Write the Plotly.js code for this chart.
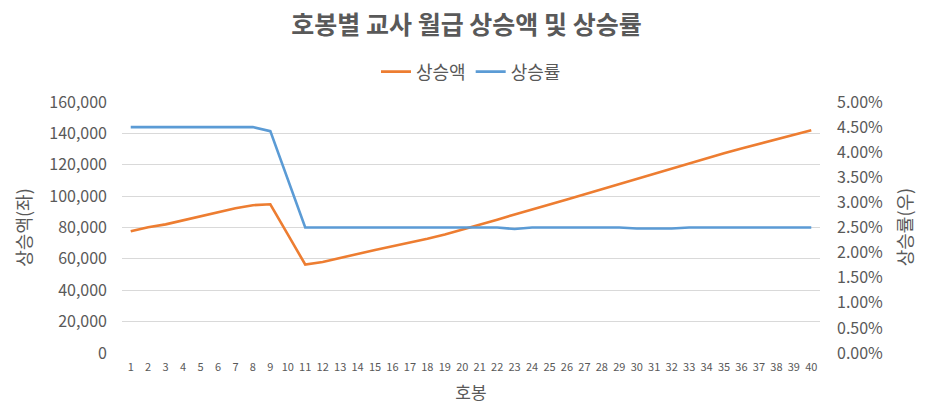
<!DOCTYPE html>
<html>
<head>
<meta charset="utf-8">
<script src="https://cdn.plot.ly/plotly-3.0.1.min.js"></script>
<style>
  html, body { margin: 0; padding: 0; background: #fff; }
  #chart { width: 933px; height: 419px; }
</style>
</head>
<body>
<div id="chart"></div>
<script>
const steps = [];
for (let i = 1; i <= 40; i++) steps.push(i);

// 상승액 (원)
const amount = [
    77600, 80200, 82000, 84500, 87000, 89800, 92300, 94200, 94800, 75600,
    56400, 58000, 60700, 63200, 65700, 68000, 70300, 72800, 75600, 78600,
    81800, 85000, 88300, 91700, 94700, 97900, 101200, 104400, 107500, 110700,
    114300, 117500, 120700, 124000, 127300, 130400, 133300, 136400, 139000, 142000
];

// 상승률 (%)
const rate = [
    4.50, 4.50, 4.50, 4.50, 4.50, 4.50, 4.50, 4.50, 4.42, 3.46,
    2.50, 2.50, 2.50, 2.50, 2.50, 2.50, 2.50, 2.50, 2.50, 2.49,
    2.50, 2.50, 2.47, 2.50, 2.50, 2.50, 2.50, 2.50, 2.50, 2.48,
    2.48, 2.48, 2.50, 2.50, 2.50, 2.50, 2.50, 2.50, 2.50, 2.50
];

const FONT = '"Noto Sans CJK KR", "Noto Sans", sans-serif';
const GREY = '#595959';

Plotly.newPlot('chart', [
    { x: steps, y: amount, type: 'scatter', mode: 'lines', name: '상승액',
      line: { color: '#ED7D31', width: 2.6 }, yaxis: 'y' },
    { x: steps, y: rate, type: 'scatter', mode: 'lines', name: '상승률',
      line: { color: '#5B9BD5', width: 2.6 }, yaxis: 'y2' }
], {
    width: 933, height: 419,
    margin: { t: 102, r: 113, b: 66, l: 122 },
    paper_bgcolor: '#fff',
    plot_bgcolor: '#fff',
    font: { family: FONT, color: GREY },
    title: { text: '<b>호봉별 교사 월급 상승액 및 상승률</b>',
             font: { family: FONT, size: 25, color: GREY },
             x: 0.5, xanchor: 'center', y: 0.94, yanchor: 'middle' },
    showlegend: true,
    legend: { orientation: 'h', x: 0.5, xanchor: 'center', y: 1.12, yanchor: 'middle',
              font: { family: FONT, size: 18, color: GREY } },
    xaxis: {
        range: [0.5, 40.5], tickmode: 'linear', tick0: 1, dtick: 1,
        showgrid: false, zeroline: false, showline: false, ticks: '',
        ticklabelstandoff: 6,
        tickfont: { family: FONT, size: 11, color: GREY },
        title: { text: '호봉', font: { family: FONT, size: 17, color: GREY }, standoff: 14 }
    },
    yaxis: {
        range: [0, 160000], dtick: 20000, tickformat: ',d',
        gridcolor: '#d9d9d9', gridwidth: 1, zeroline: false, showline: false,
        ticks: '', ticklabelstandoff: 14,
        tickfont: { family: FONT, size: 16, color: GREY }
    },
    yaxis2: {
        range: [0, 5], dtick: 0.5, tickformat: '.2f', ticksuffix: '%',
        overlaying: 'y', side: 'right', showgrid: false, zeroline: false,
        showline: false, ticks: '', ticklabelstandoff: 16,
        tickfont: { family: FONT, size: 16, color: GREY }
    },
    annotations: [
        { text: '상승액(좌)', textangle: -90, xref: 'paper', yref: 'paper',
          x: -0.143, y: 0.5, xanchor: 'center', yanchor: 'middle', showarrow: false,
          font: { family: FONT, size: 18, color: GREY } },
        { text: '상승률(우)', textangle: -90, xref: 'paper', yref: 'paper',
          x: 1.12, y: 0.5, xanchor: 'center', yanchor: 'middle', showarrow: false,
          font: { family: FONT, size: 18, color: GREY } }
    ]
}, { displayModeBar: false, responsive: false });
</script>
</body>
</html>
